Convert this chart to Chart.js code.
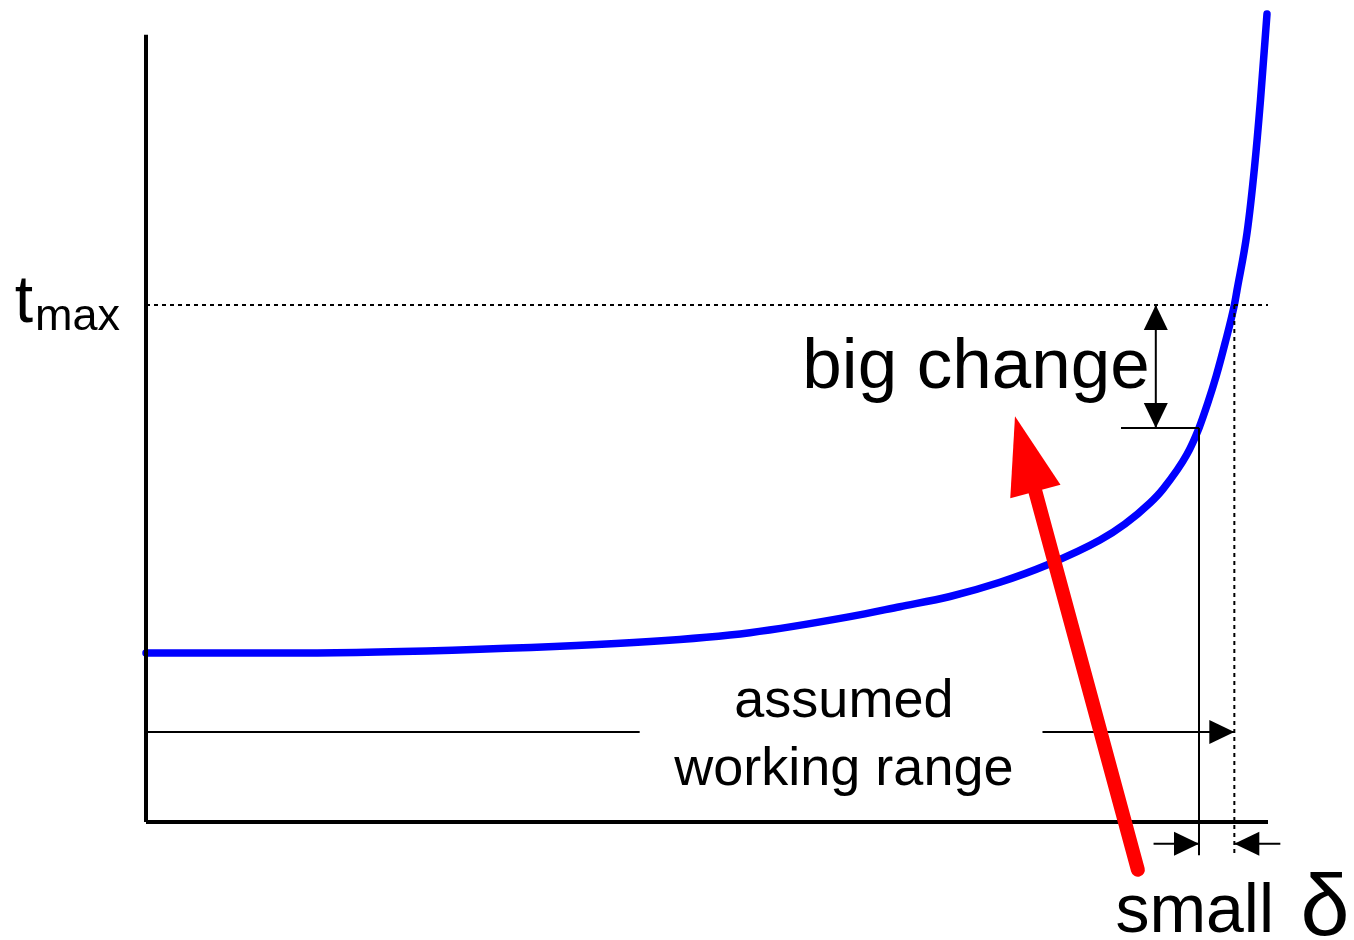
<!DOCTYPE html>
<html>
<head>
<meta charset="utf-8">
<script src="https://cdn.jsdelivr.net/npm/chart.js@4"></script>
<style>
html,body{margin:0;padding:0;background:#fff;}
#wrap{width:1354px;height:940px;position:relative;}
</style>
</head>
<body>
<div id="wrap"><canvas id="c" width="1354" height="940"></canvas></div>
<script>
// ---- data (abstract units: x 0..100, y 0..100) ----
const curveX = [0, 13.73, 29.77, 44.92, 53.83, 62.75, 67.20, 71.66, 76.11, 80.30, 85.03, 87.25, 89.48, 90.64, 92.78, 93.85, 94.65, 95.37, 96.17, 97.0, 97.24, 98.13, 98.80, 99.33, 99.91];
const curveY = [20.86, 20.85, 21.32, 22.28, 23.37, 25.35, 26.58, 27.84, 29.6, 31.73, 34.81, 36.79, 39.38, 41.1, 45.4, 48.64, 51.8, 55.0, 59.1, 63.83, 65.68, 72.72, 80.86, 89.14, 99.75];
const tMax = 63.83;       // t_max level
const xLimit = 97.0;      // x where curve reaches t_max
const xWork = 93.85;      // end of assumed working range
const yWork = 48.64;      // curve value at end of working range
const rangeY = 11.1;      // height of the working-range arrow
const deltaY = -2.7;      // height of the small-delta arrows
const axisTop = 97.2;
const tickBottom = -4.1;
const labels = ["t", "max", "big change", "assumed", "working range", "small", "δ"];

function seg(x0, y0, x1, y1) { return [{x: x0, y: y0}, {x: x1, y: y1}]; }
function lineDs(data, opts) {
  return Object.assign({data, borderColor: '#000', borderWidth: 2, pointRadius: 0, fill: false, clip: false, tension: 0}, opts || {});
}

const datasets = [
  lineDs(seg(0, 0, 0, axisTop), {borderWidth: 4}),
  lineDs(seg(0, 0, 100, 0), {borderWidth: 4}),
  lineDs(seg(0, tMax, 100, tMax), {borderDash: [4, 4]}),
  lineDs(seg(xLimit, tMax, xLimit, tickBottom), {borderDash: [4, 4]}),
  lineDs(seg(xWork, yWork, xWork, tickBottom)),
  lineDs(seg(86.9, yWork, xWork, yWork)),
  lineDs(seg(90.0, tMax, 90.0, yWork)),
  lineDs(seg(0, rangeY, 44.0, rangeY)),
  lineDs(seg(79.9, rangeY, xLimit, rangeY)),
  lineDs(seg(89.8, deltaY, xWork, deltaY)),
  lineDs(seg(101.1, deltaY, xLimit, deltaY)),
  {
    data: curveX.map((x, i) => ({x, y: curveY[i]})),
    borderColor: '#0000ff', borderWidth: 7.5, pointRadius: 0, fill: false,
    tension: 0.4, cubicInterpolationMode: 'monotone',
    borderCapStyle: 'round', borderJoinStyle: 'round', clip: false
  }
];

// arrow heads: [tipX, tipY, fromX, fromY]
const heads = [
  [90.0, tMax, 90.0, yWork],
  [90.0, yWork, 90.0, tMax],
  [xLimit, rangeY, 79.9, rangeY],
  [xWork, deltaY, 89.8, deltaY],
  [xLimit, deltaY, 101.1, deltaY]
];
// red arrow: tail -> tip
const redTail = [88.4, -5.9];
const redTip = [77.45, 50.1];

// text: [label, x, baselineY, fontSize, align]
const texts = [
  [labels[0], -11.7, 61.7, 66, 'left'],
  [labels[1], -9.9, 60.7, 45, 'left'],
  [labels[2], 58.5, 53.6, 71, 'left'],
  [labels[3], 62.2, 13.0, 54, 'center'],
  [labels[4], 62.2, 4.6, 54, 'center'],
  [labels[5], 86.4, -13.6, 68, 'left'],
  [labels[6], 102.9, -14.0, 88, 'left']
];

const overlay = {
  id: 'overlay',
  afterDatasetsDraw(chart) {
    const ctx = chart.ctx, xs = chart.scales.x, ys = chart.scales.y;
    const P = (x, y) => [xs.getPixelForValue(x), ys.getPixelForValue(y)];
    ctx.save();
    // black arrow heads
    ctx.fillStyle = '#000';
    heads.forEach(h => {
      const [tx, ty] = P(h[0], h[1]);
      const [fx, fy] = P(h[2], h[3]);
      const a = Math.atan2(ty - fy, tx - fx);
      const L = 25, W = 12;
      ctx.beginPath();
      ctx.moveTo(tx, ty);
      ctx.lineTo(tx - L * Math.cos(a) + W * Math.sin(a), ty - L * Math.sin(a) - W * Math.cos(a));
      ctx.lineTo(tx - L * Math.cos(a) - W * Math.sin(a), ty - L * Math.sin(a) + W * Math.cos(a));
      ctx.closePath();
      ctx.fill();
    });
    // texts
    ctx.fillStyle = '#000';
    ctx.textBaseline = 'alphabetic';
    texts.forEach(t => {
      const [px, py] = P(t[1], t[2]);
      ctx.font = t[3] + 'px "Liberation Sans", Arial, sans-serif';
      ctx.textAlign = t[4];
      ctx.fillText(t[0], px, py);
    });
    // red arrow
    const [ax, ay] = P(redTail[0], redTail[1]);
    const [bx, by] = P(redTip[0], redTip[1]);
    const a = Math.atan2(by - ay, bx - ax);
    const HL = 78, HW = 26;
    const baseX = bx - HL * Math.cos(a), baseY = by - HL * Math.sin(a);
    ctx.strokeStyle = '#ff0000';
    ctx.fillStyle = '#ff0000';
    ctx.lineWidth = 14;
    ctx.lineCap = 'round';
    ctx.beginPath();
    ctx.moveTo(ax, ay);
    ctx.lineTo(baseX + 2 * Math.cos(a), baseY + 2 * Math.sin(a));
    ctx.stroke();
    ctx.beginPath();
    ctx.moveTo(bx, by);
    ctx.lineTo(baseX + HW * Math.sin(a), baseY - HW * Math.cos(a));
    ctx.lineTo(baseX - HW * Math.sin(a), baseY + HW * Math.cos(a));
    ctx.closePath();
    ctx.fill();
    ctx.restore();
  }
};

new Chart(document.getElementById('c'), {
  type: 'line',
  data: {datasets},
  options: {
    responsive: false,
    animation: false,
    layout: {padding: {left: 146, right: 86, top: 12, bottom: 118}},
    plugins: {legend: {display: false}, tooltip: {enabled: false}, title: {display: false}},
    scales: {
      x: {type: 'linear', min: 0, max: 100, display: false},
      y: {type: 'linear', min: 0, max: 100, display: false}
    },
    events: []
  },
  plugins: [overlay]
});
</script>
</body>
</html>
